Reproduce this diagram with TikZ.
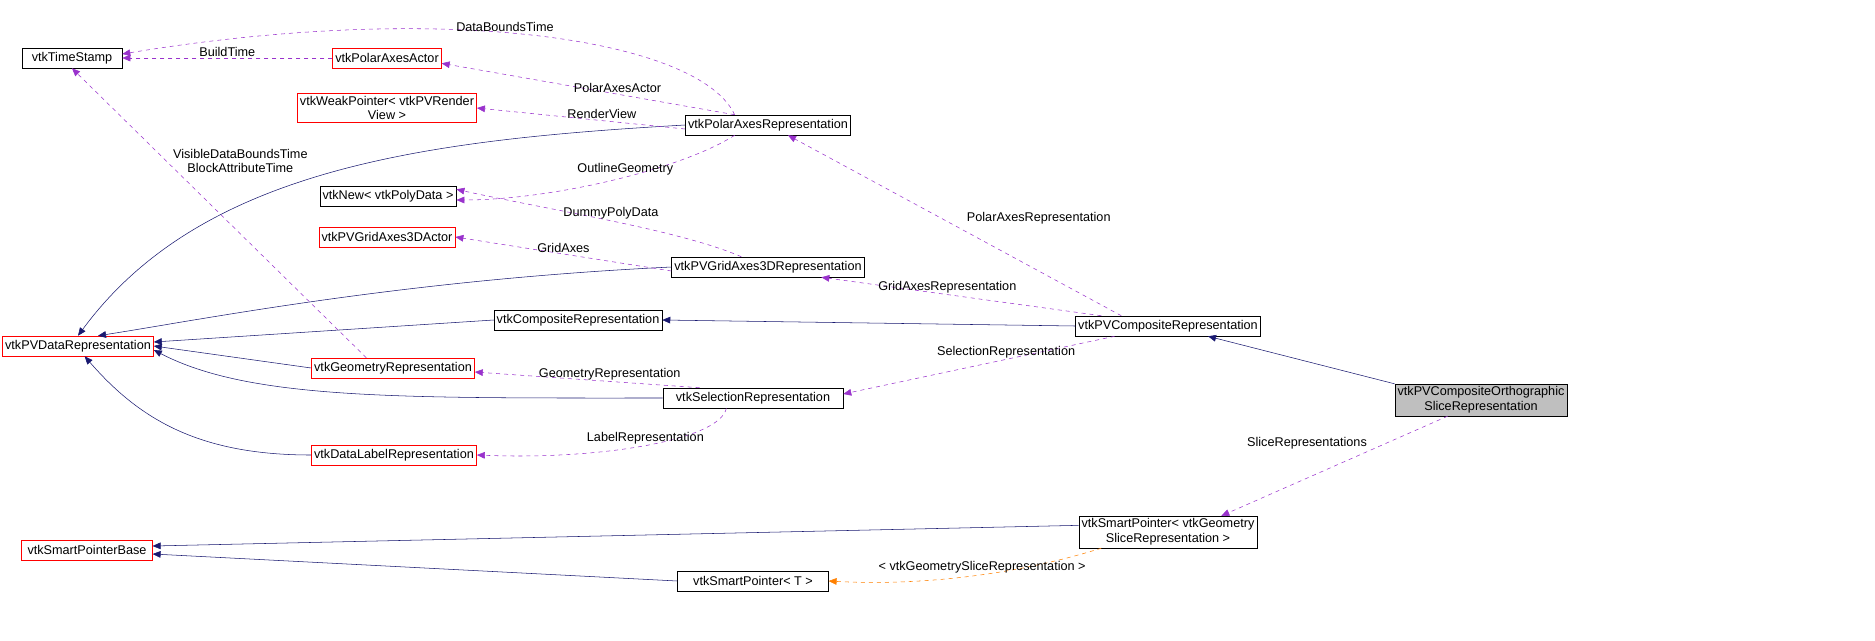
\documentclass[tikz,border=0pt]{standalone}
\usepackage{fontspec}
\setmainfont{Liberation Sans}
\usetikzlibrary{arrows.meta}

\tikzset{
  cls/.style={draw,rectangle,fill=white,font=\fontsize{9.5}{11}\selectfont,align=center,inner sep=2pt,minimum height=15pt},
  red/.style={cls,draw=red},
  inh/.style={draw={rgb,255:red,25;green,25;blue,112},-{Triangle[length=6pt,width=5pt]}},
  use/.style={draw={rgb,255:red,153;green,50;blue,204},dashed,-{Triangle[length=6pt,width=5pt]}},
  tpl/.style={draw=orange,dashed,-{Triangle[length=6pt,width=5pt]}},
  lbl/.style={font=\fontsize{9.5}{11}\selectfont,align=center,inner sep=1pt}
}

\begin{document}
\begin{tikzpicture}[x=0.75pt,y=-0.75pt]
\useasboundingbox (0,0) rectangle (1875,640);
\node [cls,minimum width=75pt] (ts) at (72,58) {vtkTimeStamp};
\node [red,minimum width=81pt] (paa) at (387,58) {vtkPolarAxesActor};
\node [red,minimum width=81pt] (wp) at (387,108) {vtkWeakPointer< vtkPVRender\\View >};
\node [cls,minimum width=120pt] (par) at (768,125) {vtkPolarAxesRepresentation};
\node [cls,minimum width=101pt] (nw) at (388,196) {vtkNew< vtkPolyData >};
\node [red,minimum width=85pt] (gac) at (387,237) {vtkPVGridAxes3DActor};
\node [cls,minimum width=136pt] (gar) at (768,267) {vtkPVGridAxes3DRepresentation};
\node [cls,minimum width=122pt] (cr) at (578,320) {vtkCompositeRepresentation};
\node [cls,minimum width=130pt] (pvc) at (1168,326) {vtkPVCompositeRepresentation};
\node [red,minimum width=107pt] (pvd) at (78,346) {vtkPVDataRepresentation};
\node [red,minimum width=115pt] (gr) at (393,368) {vtkGeometryRepresentation};
\node [cls,minimum width=135pt] (sr) at (753,398) {vtkSelectionRepresentation};
\node [red,minimum width=117pt] (dl) at (394,455) {vtkDataLabelRepresentation};
\node [cls,fill=lightgray,minimum width=122pt] (orth) at (1481,400) {vtkPVCompositeOrthographic\\SliceRepresentation};
\node [cls,minimum width=131pt] (spg) at (1168,532) {vtkSmartPointer< vtkGeometry\\SliceRepresentation >};
\node [red,minimum width=98pt] (spb) at (87,550) {vtkSmartPointerBase};
\node [cls,minimum width=113pt] (spt) at (753,581) {vtkSmartPointer< T >};

% inheritance
\draw [inh] (par.west) .. controls (420,140) and (200,170) .. (pvd.north);
\draw [inh] (gar.west) .. controls (400,280) and (200,320) .. ([xshift=15pt]pvd.north);
\draw [inh] (cr.west) -- ([yshift=3pt]pvd.east);
\draw [inh] (gr.west) -- (pvd.east);
\draw [inh] (sr.west) .. controls (400,398) and (250,400) .. ([yshift=-3pt]pvd.east);
\draw [inh] (dl.west) .. controls (200,455) and (140,420) .. ([xshift=5pt]pvd.south);
\draw [inh] (pvc.west) -- (cr.east);
\draw [inh] (orth.north west) -- ([xshift=30pt]pvc.south);
\draw [inh] ([yshift=5pt]spg.west) -- ([yshift=3pt]spb.east);
\draw [inh] (spt.west) -- ([yshift=-3pt]spb.east);

% usage
\draw [use] ([xshift=-25pt]par.north) .. controls (700,40) and (450,0) .. ([yshift=3pt]ts.east)
  node [lbl,pos=0.55,above] {DataBoundsTime};
\draw [use] (paa.west) -- (ts.east) node [lbl,midway,above] {BuildTime};
\draw [use] ([xshift=-25pt]par.north) -- ([yshift=-4pt]paa.east) node [lbl,pos=0.4,above] {PolarAxesActor};
\draw [use] ([yshift=-3pt]par.west) -- (wp.east) node [lbl,pos=0.4,above] {RenderView};
\draw [use] ([xshift=-25pt]par.south) .. controls (680,170) and (550,200) .. ([yshift=-3pt]nw.east)
  node [lbl,pos=0.45,above] {OutlineGeometry};
\draw [use] ([xshift=-20pt]gar.north) .. controls (680,230) and (550,210) .. ([yshift=5pt]nw.east)
  node [lbl,pos=0.5,above] {DummyPolyData};
\draw [use] ([yshift=-3pt]gar.west) -- (gac.east) node [lbl,pos=0.5,above] {GridAxes};
\draw [use] ([xshift=-20pt]gr.north) -- (ts.south) node [lbl,pos=0.68,right,xshift=4pt] {VisibleDataBoundsTime\\BlockAttributeTime};
\draw [use] ([xshift=-35pt]pvc.north) -- ([xshift=15pt]par.south) node [lbl,pos=0.5,above right,xshift=8pt] {PolarAxesRepresentation};
\draw [use] ([xshift=-50pt]pvc.north) -- ([xshift=40pt]gar.south) node [lbl,pos=0.55,above] {GridAxesRepresentation};
\draw [use] ([xshift=-40pt]pvc.south) -- ([yshift=3pt]sr.east) node [lbl,pos=0.4,above] {SelectionRepresentation};
\draw [use] ([xshift=-40pt]sr.north) -- ([yshift=-3pt]gr.east) node [lbl,pos=0.4,above] {GeometryRepresentation};
\draw [use] ([xshift=-20pt]sr.south) .. controls (720,440) and (600,460) .. (dl.east)
  node [lbl,pos=0.5,above] {LabelRepresentation};
\draw [use] ([xshift=-25pt]orth.south) -- ([xshift=40pt]spg.north) node [lbl,pos=0.35,above left] {SliceRepresentations};
\draw [tpl] ([xshift=-50pt]spg.south) .. controls (1000,580) and (900,585) .. (spt.east)
  node [lbl,pos=0.4,above] {< vtkGeometrySliceRepresentation >};
\end{tikzpicture}
\end{document}
